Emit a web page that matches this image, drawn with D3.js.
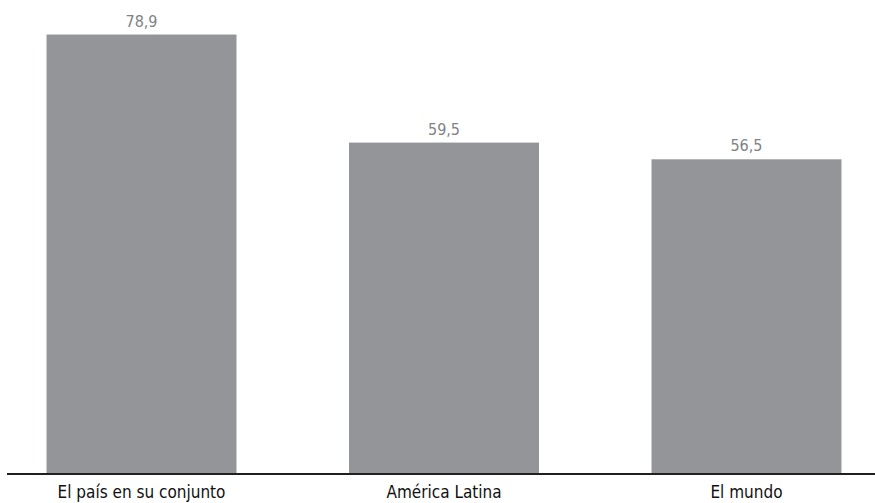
<!DOCTYPE html>
<html><head><meta charset="utf-8">
<script src="https://cdn.jsdelivr.net/npm/d3@7"></script>
<style>body{margin:0;background:#fff}</style>
</head><body>
<svg id="c" width="875" height="503"></svg>
<script>
const categories = ["El país en su conjunto", "América Latina", "El mundo"];
const values = [78.9, 59.5, 56.5];
const valueLabels = ["78,9", "59,5", "56,5"];

const svg = d3.select("#c");
const baseline = 474;
const x = d3.scaleBand().domain(categories).range([20, 868]).paddingInner(0.372).paddingOuter(0.0877);
const y = d3.scaleLinear().domain([0, 85.1]).range([baseline, 0]);
const font = "'DejaVu Sans Condensed', 'Liberation Sans Narrow', sans-serif";

svg.selectAll("rect.bar").data(values).join("rect")
  .attr("class","bar")
  .attr("x",(d,i)=>x(categories[i]))
  .attr("width",x.bandwidth())
  .attr("y",d=>y(d))
  .attr("height",d=>baseline-y(d))
  .attr("fill","#939598");

svg.selectAll("text.val").data(values).join("text")
  .attr("class","val")
  .attr("x",(d,i)=>x(categories[i])+x.bandwidth()/2)
  .attr("y",d=>y(d)-8)
  .attr("text-anchor","middle")
  .attr("font-family",font).attr("font-size",16)
  .attr("fill","#808285")
  .text((d,i)=>valueLabels[i]);

const axis = d3.axisBottom(x).tickSize(0).tickPadding(12);
const g = svg.append("g").attr("transform",`translate(0,${baseline})`).call(axis);
g.select(".domain").attr("d","M7,0H875").attr("stroke","#231f20").attr("stroke-width",2);
g.selectAll(".tick text").attr("font-family",font).attr("font-size",17).attr("fill","#111");
</script>
</body></html>
